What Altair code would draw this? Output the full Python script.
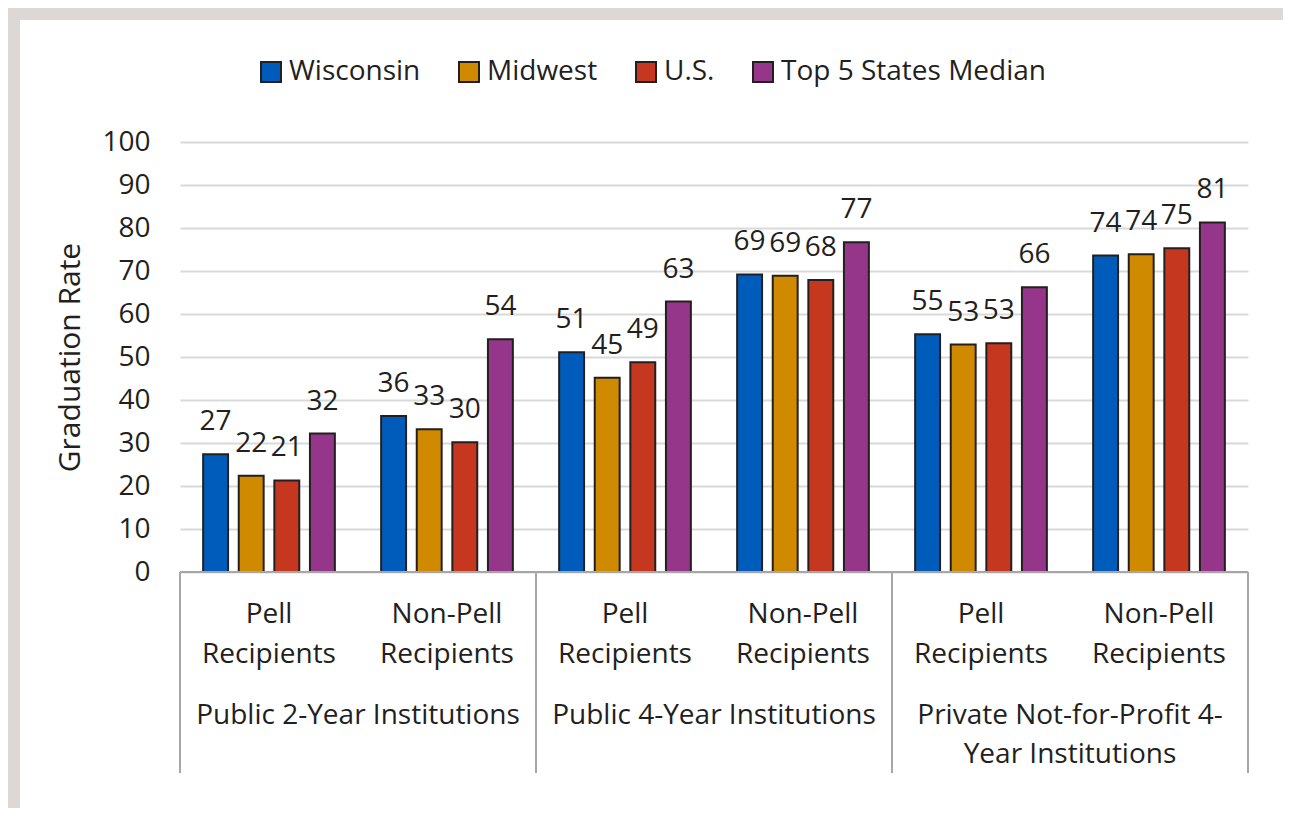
import altair as alt
import pandas as pd

# ---- data ----
columns = ["P2 Pell", "P2 Non-Pell", "P4 Pell", "P4 Non-Pell", "PNP Pell", "PNP Non-Pell"]
sub_labels = ["Pell\nRecipients", "Non-Pell\nRecipients",
              "Pell\nRecipients", "Non-Pell\nRecipients",
              "Pell\nRecipients", "Non-Pell\nRecipients"]
institutions = ["Public 2-Year Institutions", "Public 4-Year Institutions",
                "Private Not-for-Profit 4-\nYear Institutions"]
series = ["Wisconsin", "Midwest", "U.S.", "Top 5 States Median"]
wisconsin = [27.4, 36.3, 51.1, 69.2, 55.3, 73.6]
midwest = [22.4, 33.2, 45.2, 68.9, 52.9, 73.9]
us = [21.3, 30.2, 48.8, 67.9, 53.2, 75.3]
top5 = [32.2, 54.1, 62.9, 76.7, 66.2, 81.3]
colors = ["#005cbb", "#cf8a00", "#c5371e", "#96368b"]
y_ticks = list(range(0, 101, 10))

rows = []
for s, vals in zip(series, [wisconsin, midwest, us, top5]):
    for c, v in zip(columns, vals):
        rows.append({"col": c, "series": s, "value": v})
df = pd.DataFrame(rows)
sub_df = pd.DataFrame({"col": columns, "label": sub_labels})
inst_df = pd.DataFrame({"inst": institutions})
sep_df = pd.DataFrame({"pos": [0, 1, 2, 3]})
one_df = pd.DataFrame({"k": [0]})

W, H = 1068, 430
FONT = "Open Sans"
TXT = "#231f20"
GRID = "#d9d9d9"
AXIS = "#a6a6a6"
FRAME = "#dbd8d5"

x_main = alt.X("col:N", sort=columns, axis=None,
               scale=alt.Scale(domain=columns, paddingInner=0.2, paddingOuter=0.1))
x_off = alt.XOffset("series:N", sort=series,
                    scale=alt.Scale(domain=series, paddingInner=0.3, paddingOuter=0.15))

bars = alt.Chart(df).mark_bar(stroke=TXT, strokeWidth=2).encode(
    x=x_main,
    xOffset=x_off,
    y=alt.Y("value:Q", scale=alt.Scale(domain=[0, 100]),
            axis=alt.Axis(values=y_ticks, title="Graduation Rate", grid=True,
                          domain=False, ticks=False, labelFontSize=28,
                          labelPadding=30, labelColor=TXT, titleFontSize=30,
                          titleFontWeight="normal", titleColor=TXT,
                          titlePadding=16, gridColor=GRID, gridWidth=2)),
    color=alt.Color("series:N", sort=series,
                    scale=alt.Scale(domain=series, range=colors),
                    legend=alt.Legend(title=None, orient="none", direction="horizontal",
                                      legendX=77, legendY=-84, padding=0,
                                      symbolType="square", symbolSize=400,
                                      symbolStrokeColor=TXT, symbolStrokeWidth=2,
                                      symbolOpacity=1,
                                      labelFontSize=28, labelColor=TXT,
                                      labelOffset=4, columnPadding=34,
                                      labelLimit=400)),
)

labels = alt.Chart(df).mark_text(fontSize=28, color=TXT, baseline="alphabetic",
                                 align="center", dy=-24).encode(
    x=x_main,
    xOffset=x_off,
    y=alt.Y("value:Q"),
    text=alt.Text("value:Q", format=".0f"),
)

sub_text = alt.Chart(sub_df).mark_text(fontSize=28, color=TXT, baseline="alphabetic",
                                       align="center", lineBreak="\n",
                                       lineHeight=40).encode(
    x=alt.X("col:N", sort=columns, axis=None,
            scale=alt.Scale(domain=columns, paddingInner=0.2, paddingOuter=0.1)),
    y=alt.value(481),
    text="label:N",
)

inst_text = alt.Chart(inst_df).mark_text(fontSize=28, color=TXT, baseline="alphabetic",
                                         align="center", lineBreak="\n",
                                         lineHeight=39).encode(
    x=alt.X("inst:N", sort=institutions, axis=None,
            scale=alt.Scale(domain=institutions, paddingInner=0, paddingOuter=0)),
    y=alt.value(582),
    text="inst:N",
)

seps = alt.Chart(sep_df).mark_rule(color=AXIS, strokeWidth=2).encode(
    x=alt.X("pos:Q", axis=None, scale=alt.Scale(domain=[0, 3], nice=False, zero=False)),
    y=alt.value(H),
    y2=alt.value(631),
)

base_line = alt.Chart(one_df).mark_rule(color=AXIS, strokeWidth=2).encode(
    x=alt.value(0), x2=alt.value(W), y=alt.value(H),
)

frame_left = alt.Chart(one_df).mark_rect(color=FRAME).encode(
    x=alt.value(-172), x2=alt.value(-160), y=alt.value(-134), y2=alt.value(666),
)
frame_top = alt.Chart(one_df).mark_rect(color=FRAME).encode(
    x=alt.value(-172), x2=alt.value(1103), y=alt.value(-134), y2=alt.value(-122),
)

chart = alt.layer(
    frame_left, frame_top, bars, labels, sub_text, inst_text, seps, base_line
).resolve_scale(
    x="independent"
).properties(
    width=W, height=H,
    autosize=alt.AutoSizeParams(type="none"),
    padding={"left": 172, "top": 134, "right": 35, "bottom": 236},
).configure(
    font=FONT,
).configure_view(
    strokeWidth=0,
)

chart.save("out.html", embed_options={"renderer": "svg", "actions": False})
